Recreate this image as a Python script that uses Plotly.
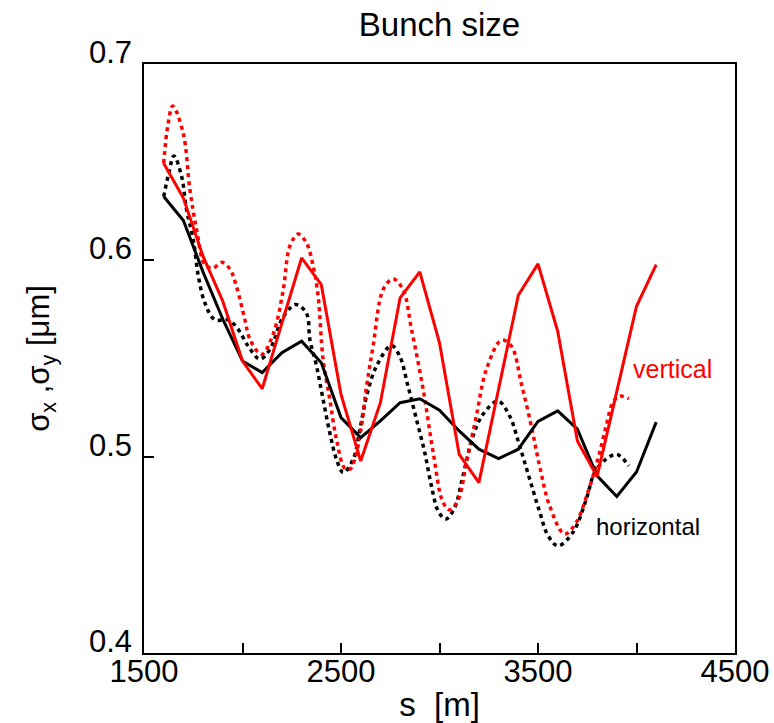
import plotly.graph_objects as go

# Horizontal (black, solid) - piecewise data
h_solid_s = [1600, 1700, 1800, 1900, 2000, 2100, 2200, 2300, 2400, 2500, 2600, 2700, 2800, 2900,
             3000, 3100, 3200, 3300, 3400, 3500, 3600, 3700, 3800, 3900, 4000, 4100]
h_solid_v = [0.6325, 0.6203, 0.594, 0.570, 0.5487, 0.5428, 0.5529, 0.5588, 0.5478, 0.5199, 0.5097, 0.5182,
             0.5275, 0.5295, 0.5237, 0.5131, 0.5038, 0.4990, 0.5038, 0.5180, 0.5233, 0.5140, 0.4902, 0.4797,
             0.4922, 0.5176]

# Vertical (red, solid)
v_solid_s = h_solid_s
v_solid_v = [0.6495, 0.6317, 0.6020, 0.5792, 0.5487, 0.5346, 0.5680, 0.6012, 0.5876, 0.5317, 0.4978, 0.5275,
             0.5809, 0.5941, 0.5580, 0.5012, 0.4868, 0.5350, 0.5822, 0.5982, 0.5639, 0.5080, 0.4899, 0.5333,
             0.5766, 0.5978]

# Horizontal (black, dotted) - smooth
h_dot_s = [1600, 1625, 1652, 1691, 1716, 1750, 1776, 1809, 1860, 1928, 1978, 2029, 2088, 2139, 2207, 2270,
           2325, 2342, 2376, 2409, 2443, 2477, 2511, 2562, 2596, 2630, 2680, 2756, 2798, 2840, 2883, 2925,
           2959, 2993, 3032, 3077, 3119, 3170, 3221, 3297, 3356, 3407, 3458, 3508, 3550, 3601, 3677, 3745,
           3787, 3846, 3900, 3961]
h_dot_v = [0.6325, 0.6440, 0.6532, 0.6427, 0.6258, 0.6105, 0.5919, 0.5783, 0.5697, 0.5697, 0.5648, 0.5563,
           0.5497, 0.5546, 0.5712, 0.5775, 0.5730, 0.5597, 0.5461, 0.5292, 0.5122, 0.4987, 0.4919, 0.4987,
           0.5139, 0.5309, 0.5461, 0.5566, 0.5512, 0.5360, 0.5190, 0.5021, 0.4851, 0.4724, 0.4682, 0.4740,
           0.4902, 0.5105, 0.5216, 0.5283, 0.5207, 0.5054, 0.4885, 0.4720, 0.4600, 0.4546, 0.4614, 0.4783,
           0.4919, 0.4987, 0.5012, 0.4953]

# Vertical (red, dotted) - smooth
v_dot_s = [1600, 1620, 1646, 1699, 1733, 1767, 1809, 1850, 1894, 1936, 1970, 2012, 2038, 2097, 2156, 2207,
           2240, 2283, 2325, 2359, 2384, 2409, 2443, 2477, 2519, 2545, 2570, 2604, 2630, 2663, 2714, 2765,
           2815, 2858, 2917, 2968, 3018, 3052, 3094, 3137, 3187, 3238, 3314, 3365, 3416, 3466, 3508, 3559,
           3635, 3694, 3753, 3804, 3846, 3880, 3914, 3961]
v_dot_v = [0.6495, 0.6680, 0.6786, 0.6648, 0.6360, 0.6156, 0.5978, 0.5960, 0.5990, 0.5956, 0.5865, 0.5698,
           0.5597, 0.5521, 0.5625, 0.5851, 0.6071, 0.6134, 0.6088, 0.5969, 0.5817, 0.5495, 0.5292, 0.5088,
           0.4940, 0.4936, 0.4987, 0.5156, 0.5360, 0.5563, 0.5851, 0.5905, 0.5851, 0.5648, 0.5343, 0.5021,
           0.4767, 0.4729, 0.4778, 0.4970, 0.5207, 0.5444, 0.5593, 0.5563, 0.5370, 0.5156, 0.4953, 0.4750,
           0.4606, 0.4665, 0.4818, 0.4987, 0.5156, 0.5275, 0.5309, 0.5295]

x_tickvals = [1500, 2000, 2500, 3000, 3500, 4000, 4500]
x_ticktext = ["1500", "", "2500", "", "3500", "", "4500"]
y_tickvals = [0.4, 0.5, 0.6, 0.7]
y_ticktext = ["0.4", "0.5", "0.6", "0.7"]

FONT = "Arial, Liberation Sans, Helvetica, sans-serif"

fig = go.Figure()
fig.add_trace(go.Scatter(x=h_dot_s, y=h_dot_v, mode="lines", line_shape="spline",
                         line=dict(color="black", width=3.5, dash="4px,4px")))
fig.add_trace(go.Scatter(x=v_dot_s, y=v_dot_v, mode="lines", line_shape="spline",
                         line=dict(color="#ff0000", width=3.5, dash="4px,4px")))
fig.add_trace(go.Scatter(x=h_solid_s, y=h_solid_v, mode="lines",
                         line=dict(color="black", width=3)))
fig.add_trace(go.Scatter(x=v_solid_s, y=v_solid_v, mode="lines",
                         line=dict(color="#ff0000", width=3)))

fig.add_annotation(x=3972, y=0.5444, text="vertical", showarrow=False, xanchor="left",
                   yanchor="middle", font=dict(family=FONT, size=25, color="#ff0000"))
fig.add_annotation(x=3782, y=0.4646, text="horizontal", showarrow=False, xanchor="left",
                   yanchor="middle", font=dict(family=FONT, size=24, color="black"))

fig.update_layout(
    width=774, height=723,
    margin=dict(l=144, r=39, t=64, b=70),
    paper_bgcolor="white", plot_bgcolor="white",
    showlegend=False,
    font=dict(family=FONT, color="black"),
    title=dict(text="Bunch size", x=0.5, xref="paper", xanchor="center",
               y=1 - 24 / 723, yref="container", yanchor="middle",
               font=dict(family=FONT, size=33, color="black")),
    xaxis=dict(range=[1500, 4500], tickvals=x_tickvals, ticktext=x_ticktext,
               ticks="inside", ticklen=10, tickwidth=2, tickcolor="black",
               showline=True, linecolor="black", linewidth=1.5, mirror=True,
               showgrid=False, zeroline=False, automargin=False,
               ticklabelstandoff=-10,
               tickfont=dict(family=FONT, size=31),
               title=dict(text="s  [m]", font=dict(family=FONT, size=33), standoff=5)),
    yaxis=dict(range=[0.4, 0.7], tickvals=y_tickvals, ticktext=y_ticktext,
               ticks="inside", ticklen=10, tickwidth=2, tickcolor="black",
               showline=True, linecolor="black", linewidth=1.5, mirror=True,
               showgrid=False, zeroline=False, automargin=False,
               ticklabelstandoff=4, ticklabelshift=-12,
               tickfont=dict(family=FONT, size=31),
               title=dict(text="σ<sub>x</sub> ,σ<sub>y</sub> [μm]", font=dict(family=FONT, size=31),
                          standoff=30)),
)

fig.write_html("out.html")
